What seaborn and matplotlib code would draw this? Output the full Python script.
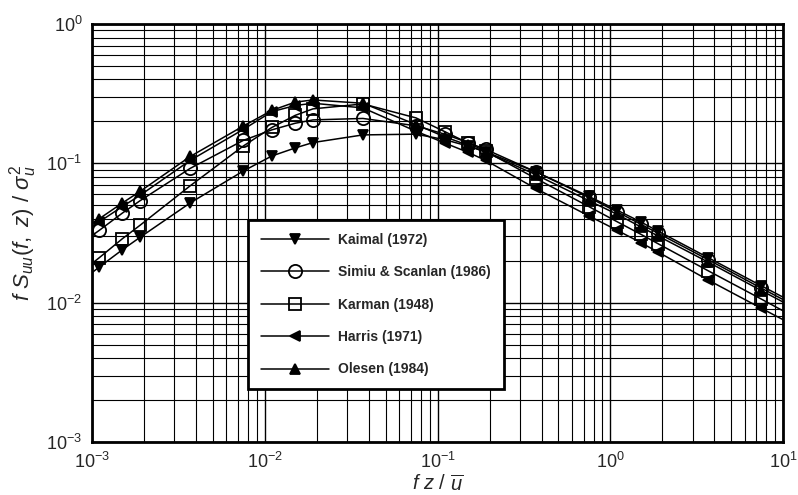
import matplotlib
matplotlib.use("Agg")
import matplotlib.pyplot as plt
import numpy as np
import seaborn as sns
from matplotlib.ticker import LogLocator

sns.set_theme(style="ticks")

plt.rcParams.update(
    {
        "font.family": ["Liberation Sans", "DejaVu Sans"],
        "mathtext.fontset": "custom",
        "mathtext.rm": "Liberation Sans",
        "mathtext.it": "Liberation Sans:italic",
        "mathtext.bf": "Liberation Sans:bold",
    }
)

# reduced frequency f z / u
freq = [0.00075, 0.0011, 0.0015, 0.0019, 0.0037, 0.0075, 0.011, 0.015, 0.019,
        0.037, 0.075, 0.11, 0.15, 0.19, 0.37, 0.75, 1.1, 1.5, 1.9, 3.7, 7.5, 11]

kaimal = [0.0125, 0.018, 0.024, 0.0295, 0.052, 0.088, 0.113, 0.129, 0.141,
          0.160, 0.162, 0.148, 0.133, 0.121, 0.087, 0.058, 0.046, 0.038, 0.0325,
          0.021, 0.0132, 0.0103]
simiu = [0.0235, 0.033, 0.044, 0.054, 0.092, 0.146, 0.174, 0.194, 0.205,
         0.21, 0.186, 0.162, 0.141, 0.126, 0.087, 0.057, 0.0447, 0.0366, 0.0314,
         0.0203, 0.0127, 0.0099]
karman = [0.0144, 0.021, 0.0288, 0.036, 0.069, 0.133, 0.181, 0.221, 0.246,
          0.267, 0.212, 0.169, 0.140, 0.122, 0.078, 0.049, 0.038, 0.031, 0.0264,
          0.0169, 0.0106, 0.0082]
harris = [0.027, 0.038, 0.049, 0.059, 0.105, 0.175, 0.235, 0.26, 0.27,
          0.25, 0.17, 0.14, 0.12, 0.105, 0.066, 0.042, 0.033, 0.027, 0.023,
          0.0145, 0.0091, 0.0071]
olesen = [0.029, 0.040, 0.052, 0.063, 0.112, 0.185, 0.24, 0.275, 0.285,
          0.27, 0.19, 0.155, 0.135, 0.12, 0.083, 0.054, 0.043, 0.035, 0.030,
          0.0195, 0.0122, 0.0095]

series = [
    ("Kaimal (1972)", kaimal, "v", "black", 6.5),
    ("Simiu & Scanlan (1986)", simiu, "o", "none", 9.5),
    ("Karman (1948)", karman, "s", "none", 8.5),
    ("Harris (1971)", harris, "<", "black", 6.5),
    ("Olesen (1984)", olesen, "^", "black", 6.5),
]

fig = plt.figure(figsize=(7.98, 4.95), dpi=100)
ax = fig.add_axes([0.1153, 0.107, 0.866, 0.8445])

for name, vals, mk, fc, ms in series:
    sns.lineplot(
        x=freq,
        y=vals,
        ax=ax,
        color="black",
        linewidth=1.1,
        marker=mk,
        markersize=ms,
        markerfacecolor=fc,
        markeredgecolor="black",
        markeredgewidth=1.3,
        label=name,
    )

ax.set_xscale("log")
ax.set_yscale("log")
ax.set_xlim(1e-3, 1e1)
ax.set_ylim(1e-3, 1e0)

ax.xaxis.set_minor_locator(LogLocator(base=10, subs=np.arange(2, 10)))
ax.yaxis.set_minor_locator(LogLocator(base=10, subs=np.arange(2, 10)))
ax.grid(True, which="major", color="black", linewidth=1.0)
ax.grid(True, which="minor", color="black", linewidth=0.8)
ax.tick_params(which="both", length=0, labelsize=13, pad=7)

for s in ax.spines.values():
    s.set_linewidth(2)
    s.set_color("black")

ax.set_xlabel(r"$f\ z\ /\ \overline{u}$", fontsize=14.5)
ax.xaxis.set_label_coords(0.5, -0.078)
ax.set_ylabel(r"$f\ S_{uu}(f,\ z)\ /\ \sigma_u^2$", fontsize=16)
ax.yaxis.set_label_coords(-0.077, 0.5)

leg = ax.legend(
    loc="lower left",
    bbox_to_anchor=(0.226, 0.127),
    borderaxespad=0,
    frameon=True,
    fancybox=False,
    edgecolor="black",
    framealpha=1,
    handlelength=4.9,
    borderpad=0.9,
    labelspacing=1.33,
    handletextpad=0.7,
    prop={"weight": "bold", "size": 10},
)
leg.get_frame().set_linewidth(2)

plt.savefig("out.png", dpi=100)
